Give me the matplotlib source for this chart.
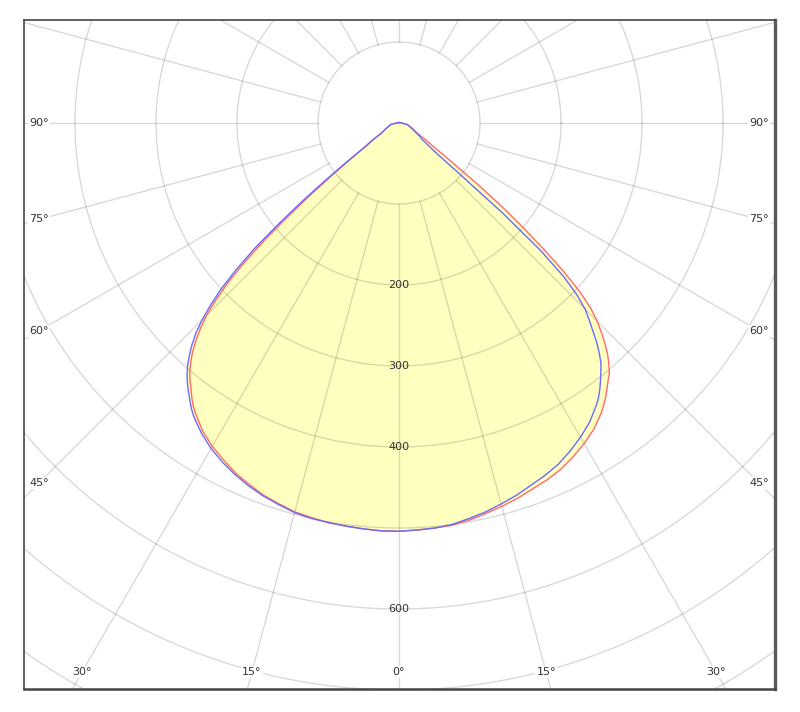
import numpy as np
import matplotlib
matplotlib.use("Agg")
import matplotlib.pyplot as plt

# ---- data (luminous intensity, cd) ----
gamma = [0, 2.5, 5, 7.5, 10, 12.5, 15, 17.5, 20, 22.5, 25, 27.5, 30, 32.5,
         35, 36, 37, 38, 39, 40, 41, 42, 43, 44, 45, 46, 47, 48, 49, 50, 51, 52, 53, 54, 55,
         57.5, 60, 65, 70, 80, 90, 120, 150, 180]
blue_left = [504, 504, 503, 502, 501, 500, 498, 494, 490, 485, 479, 472, 464, 454,
             442, 436, 429, 422, 415, 407, 398, 387, 375, 361, 344, 323, 300, 270, 237, 195,
             155, 118, 88, 66, 52,
             37, 25, 19, 15, 10, 3, 1, 0.5, 0.5]
red_left = [504, 504, 503, 502, 501, 499, 497, 493, 489, 483, 477, 469, 461, 451,
            438, 432, 425, 417, 410, 402, 392, 381, 368, 353, 336, 314, 288, 255, 218, 176,
            138, 105, 80, 62, 50,
            37, 25, 19, 15, 10, 3, 1, 0.5, 0.5]
blue_right = [503, 503, 502, 500, 496, 492, 487, 482, 476, 471, 465, 457, 448, 438,
              425, 419, 412, 404, 396, 388, 377, 365, 351, 338, 325, 305, 278, 235, 170, 95,
              62, 50, 43, 38, 34,
              30, 25, 19, 15, 10, 3, 1, 0.5, 0.5]
red_right = [503, 503, 502, 501, 498, 494, 490, 486, 481, 477, 472, 465, 457, 448,
             436, 430, 424, 417, 410, 404, 395, 385, 373, 360, 346, 329, 305, 272, 234, 196,
             160, 125, 92, 72, 58,
             40, 28, 20, 16, 10, 3, 1, 0.5, 0.5]

ring_values = [100, 200, 300, 400, 500, 600, 700, 800]
ring_labels = [200, 300, 400, 600]
spoke_angles = list(range(0, 360, 15))
angle_labels = [0, 15, 30, 45, 60, 75, 90]


def to_xy(angles_deg, values):
    a = np.radians(np.asarray(angles_deg, dtype=float))
    v = np.asarray(values, dtype=float)
    return v * np.sin(a), -v * np.cos(a)


def full_curve(left, right):
    g = np.asarray(gamma, dtype=float)
    ang = np.concatenate([-g[::-1], g[1:]])
    val = np.concatenate([np.asarray(left)[::-1], np.asarray(right)[1:]])
    return to_xy(ang, val)


fig = plt.figure(figsize=(8, 7.12), dpi=100)
ax = fig.add_axes([24 / 800, 23 / 712, 751 / 800, 669 / 712])
scale = 0.81  # px per cd
x0, x1 = -375 / scale, 376 / scale
y0, y1 = -566 / scale, 103 / scale
ax.set_xlim(x0, x1)
ax.set_ylim(y0, y1)
ax.set_xticks([])
ax.set_yticks([])

fill_col = "#ffffc0"
bx, by = full_curve(blue_left, blue_right)
rx, ry = full_curve(red_left, red_right)
ax.fill(bx, by, color=fill_col, lw=0, zorder=1)
ax.fill(rx, ry, color=fill_col, lw=0, zorder=1)

grid_col = (0, 0, 0, 0.15)
t = np.linspace(0, 2 * np.pi, 721)
for rv in ring_values:
    ax.plot(rv * np.cos(t), rv * np.sin(t), color=grid_col, lw=1.0, zorder=2)
for sa in spoke_angles:
    xs, ys = to_xy([sa, sa], [100, 1200])
    ax.plot(xs, ys, color=grid_col, lw=1.0, zorder=2)

ax.plot(rx, ry, color="#ff6a6a", lw=1.0, zorder=3, solid_joinstyle="round")
ax.plot(bx, by, color="#6a6aff", lw=1.0, zorder=3, solid_joinstyle="round")

txt_col = "#333333"
for rl in ring_labels:
    ax.text(0, -rl, str(rl), ha="center", va="center", fontsize=8, color=txt_col, zorder=4)

xin = x1 - 16 / scale
yin = -y0 - 17 / scale
for al in angle_labels:
    for sgn in ([1] if al == 0 else [-1, 1]):
        a = np.radians(al)
        s, c = np.sin(a), np.cos(a)
        cand = []
        if s > 1e-9:
            cand.append(xin / s)
        if c > 1e-9:
            cand.append(yin / c)
        tt = min(cand)
        ax.text(sgn * tt * s, -tt * c, f"{al}°", ha="center", va="center", fontsize=8,
                color=txt_col, zorder=4,
                bbox=dict(facecolor="white", edgecolor="none", pad=1.0))

for side, sp in ax.spines.items():
    sp.set_color("#444444")
    sp.set_linewidth(1.2)
ax.spines["right"].set_linewidth(2.4)
ax.spines["right"].set_color("#5a5a5a")
ax.spines["bottom"].set_linewidth(1.8)

fig.savefig("out.png", dpi=100)
